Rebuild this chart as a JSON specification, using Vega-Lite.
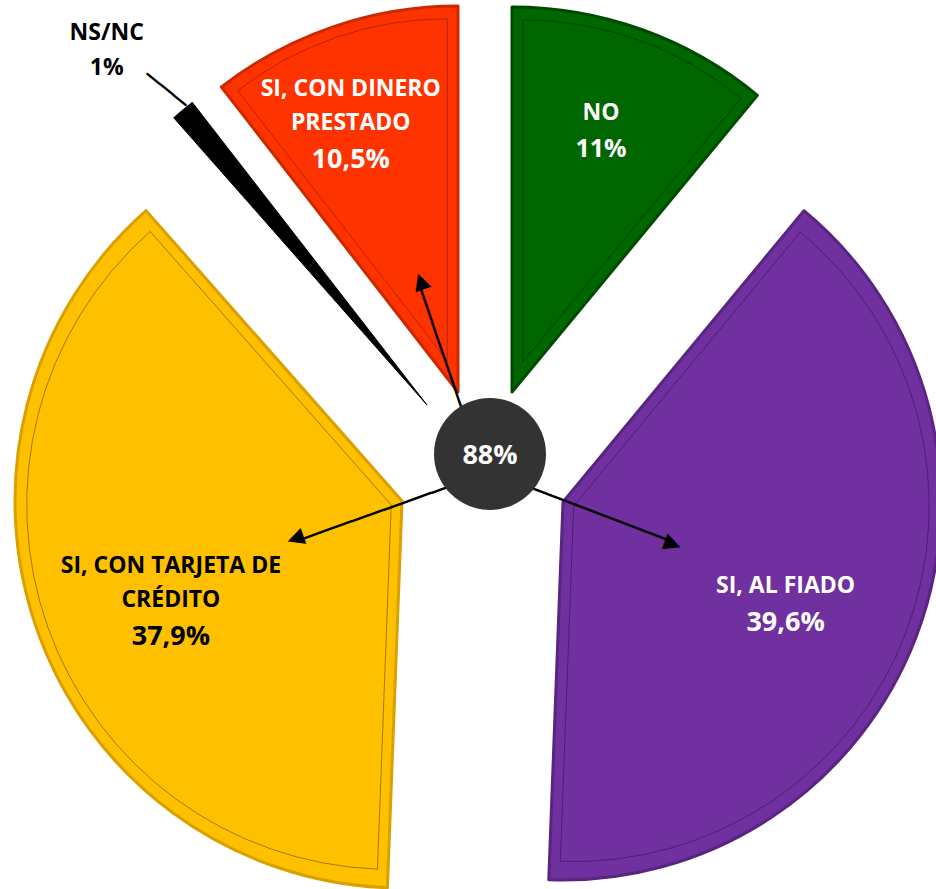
{
  "$schema": "https://vega.github.io/schema/vega-lite/v6.json",
  "autosize": {"type": "none"},
  "padding": {"left": 34, "top": 55, "right": 0, "bottom": 0},
  "width": 902,
  "height": 834,
  "background": "#ffffff",
  "config": {"view": {"stroke": null}},
  "data": {"values": [
    {"k": 1, "cat": "NO", "upper": "", "lower": "NO", "pct": "11%", "value": 11},
    {"k": 2, "cat": "SI, AL FIADO", "upper": "", "lower": "SI, AL FIADO", "pct": "39,6%", "value": 39.6},
    {"k": 3, "cat": "SI, CON TARJETA DE CRÉDITO", "upper": "SI, CON TARJETA DE", "lower": "CRÉDITO", "pct": "37,9%", "value": 37.9},
    {"k": 4, "cat": "NS/NC", "upper": "", "lower": "NS/NC", "pct": "1%", "value": 1},
    {"k": 5, "cat": "SI, CON DINERO PRESTADO", "upper": "SI, CON DINERO", "lower": "PRESTADO", "pct": "10,5%", "value": 10.5}
  ]},
  "resolve": {"scale": {"radius": "independent", "angle": "independent", "size": "independent", "xOffset": "independent", "yOffset": "independent"}},
  "layer": [
    {
      "mark": {"type": "arc", "radius": 385, "xOffset": 27, "yOffset": -80, "strokeWidth": 3, "strokeJoin": "round"},
      "encoding": {
        "theta": {"field": "value", "type": "quantitative", "stack": true},
        "order": {"field": "k", "type": "quantitative"},
        "fill": {"field": "cat", "type": "nominal", "legend": null, "scale": {"domain": ["NO", "SI, AL FIADO", "SI, CON TARJETA DE CRÉDITO", "NS/NC", "SI, CON DINERO PRESTADO"], "range": ["#006600", "#7030A0", "#FFC000", "#000000", "#FF3300"]}},
        "stroke": {"field": "cat", "type": "nominal", "legend": null, "scale": {"domain": ["NO", "SI, AL FIADO", "SI, CON TARJETA DE CRÉDITO", "NS/NC", "SI, CON DINERO PRESTADO"], "range": ["#004a00", "#58257f", "#d9a000", "#000000", "#cc2900"]}},
        "opacity": {"condition": {"test": "datum.cat === 'NO'", "value": 1}, "value": 0}
      }
    },
    {
      "mark": {"type": "arc", "radius": 378, "xOffset": 78, "yOffset": 30, "strokeWidth": 3, "strokeJoin": "round"},
      "encoding": {
        "theta": {"field": "value", "type": "quantitative", "stack": true},
        "order": {"field": "k", "type": "quantitative"},
        "fill": {"field": "cat", "type": "nominal", "legend": null},
        "stroke": {"field": "cat", "type": "nominal", "legend": null},
        "opacity": {"condition": {"test": "datum.cat === 'SI, AL FIADO'", "value": 1}, "value": 0}
      }
    },
    {
      "mark": {"type": "arc", "radius": 387, "xOffset": -83, "yOffset": 29, "strokeWidth": 3, "strokeJoin": "round"},
      "encoding": {
        "theta": {"field": "value", "type": "quantitative", "stack": true},
        "order": {"field": "k", "type": "quantitative"},
        "fill": {"field": "cat", "type": "nominal", "legend": null},
        "stroke": {"field": "cat", "type": "nominal", "legend": null},
        "opacity": {"condition": {"test": "datum.cat === 'SI, CON TARJETA DE CRÉDITO'", "value": 1}, "value": 0}
      }
    },
    {
      "mark": {"type": "arc", "radius": 383, "xOffset": -58, "yOffset": -67, "strokeWidth": 1, "strokeJoin": "round"},
      "encoding": {
        "theta": {"field": "value", "type": "quantitative", "stack": true},
        "order": {"field": "k", "type": "quantitative"},
        "fill": {"field": "cat", "type": "nominal", "legend": null},
        "stroke": {"field": "cat", "type": "nominal", "legend": null},
        "opacity": {"condition": {"test": "datum.cat === 'NS/NC'", "value": 1}, "value": 0}
      }
    },
    {
      "mark": {"type": "arc", "radius": 386, "xOffset": -27, "yOffset": -80, "strokeWidth": 3, "strokeJoin": "round"},
      "encoding": {
        "theta": {"field": "value", "type": "quantitative", "stack": true},
        "order": {"field": "k", "type": "quantitative"},
        "fill": {"field": "cat", "type": "nominal", "legend": null},
        "stroke": {"field": "cat", "type": "nominal", "legend": null},
        "opacity": {"condition": {"test": "datum.cat === 'SI, CON DINERO PRESTADO'", "value": 1}, "value": 0}
      }
    },
    {
      "mark": {"type": "arc", "filled": false, "radius": 342, "xOffset": 37.8, "yOffset": -110.1, "strokeWidth": 1, "stroke": "#003300"},
      "encoding": {
        "theta": {"field": "value", "type": "quantitative", "stack": true},
        "order": {"field": "k", "type": "quantitative"},
        "detail": {"field": "cat", "type": "nominal"},
        "strokeOpacity": {"condition": {"test": "datum.cat === 'NO'", "value": 0.7}, "value": 0}
      }
    },
    {
      "mark": {"type": "arc", "filled": false, "radius": 355.5, "xOffset": 88.7, "yOffset": 34.1, "strokeWidth": 1, "stroke": "#3f155f"},
      "encoding": {
        "theta": {"field": "value", "type": "quantitative", "stack": true},
        "order": {"field": "k", "type": "quantitative"},
        "detail": {"field": "cat", "type": "nominal"},
        "strokeOpacity": {"condition": {"test": "datum.cat === 'SI, AL FIADO'", "value": 0.7}, "value": 0}
      }
    },
    {
      "mark": {"type": "arc", "filled": false, "radius": 364.5, "xOffset": -93.8, "yOffset": 32.9, "strokeWidth": 1, "stroke": "#7a5c00"},
      "encoding": {
        "theta": {"field": "value", "type": "quantitative", "stack": true},
        "order": {"field": "k", "type": "quantitative"},
        "detail": {"field": "cat", "type": "nominal"},
        "strokeOpacity": {"condition": {"test": "datum.cat === 'SI, CON TARJETA DE CRÉDITO'", "value": 0.7}, "value": 0}
      }
    },
    {
      "mark": {"type": "arc", "filled": false, "radius": 342, "xOffset": -37.7, "yOffset": -111.2, "strokeWidth": 1, "stroke": "#992000"},
      "encoding": {
        "theta": {"field": "value", "type": "quantitative", "stack": true},
        "order": {"field": "k", "type": "quantitative"},
        "detail": {"field": "cat", "type": "nominal"},
        "strokeOpacity": {"condition": {"test": "datum.cat === 'SI, CON DINERO PRESTADO'", "value": 0.7}, "value": 0}
      }
    },
    {
      "mark": {"type": "text", "font": "DejaVu Sans Mono", "fontSize": 28, "baseline": "middle", "align": "center"},
      "encoding": {
        "theta": {"field": "value", "type": "quantitative", "stack": true},
        "order": {"field": "k", "type": "quantitative"},
        "detail": {"field": "cat", "type": "nominal"},
        "radius": {"field": "value", "type": "quantitative", "scale": {"type": "linear", "domain": [1, 10.5, 11, 37.9, 39.6], "range": [498, 125, 0, 125, 125], "zero": false, "nice": false}},
        "angle": {"field": "value", "type": "quantitative", "legend": null, "scale": {"type": "linear", "domain": [1, 10.5, 11, 37.9, 39.6], "range": [219, 251.1, 0, 160.4, 20.9], "zero": false, "nice": false}},
        "text": {"condition": [{"test": "datum.cat === 'NO'", "value": ""}, {"test": "datum.cat === 'NS/NC'", "value": "───"}], "value": "─────────▶"},
        "color": {"value": "#000000"}
      }
    },
    {
      "data": {"values": [{"total": "88%"}]},
      "mark": {"type": "arc", "radius": 56, "theta": 0, "theta2": 6.2832, "fill": "#333333", "xOffset": 5, "yOffset": -18},
      "encoding": {}
    },
    {
      "data": {"values": [{"total": "88%"}]},
      "mark": {"type": "text", "font": "Open Sans", "fontWeight": "bold", "fontSize": 27, "color": "#ffffff", "align": "center", "baseline": "middle", "xOffset": 5, "yOffset": -16},
      "encoding": {"text": {"field": "total"}}
    },
    {
      "mark": {"type": "text", "font": "Open Sans", "fontWeight": "bold", "fontSize": 23, "baseline": "bottom", "align": "center", "dy": -34},
      "encoding": {
        "theta": {"field": "value", "type": "quantitative", "stack": true},
        "order": {"field": "k", "type": "quantitative"},
        "detail": {"field": "cat", "type": "nominal"},
        "radius": {"field": "value", "type": "quantitative", "scale": {"type": "linear", "domain": [1, 10.5, 11, 37.9, 39.6], "range": [570, 362, 366, 343, 326], "zero": false, "nice": false}},
        "xOffset": {"field": "value", "type": "quantitative", "scale": {"type": "linear", "domain": [1, 10.5, 11, 37.9, 39.6], "range": [-15, -17, -8, 9, -4], "zero": false, "nice": false}},
        "yOffset": {"field": "value", "type": "quantitative", "scale": {"type": "linear", "domain": [1, 10.5, 11, 37.9, 39.6], "range": [12, 5, -3, 25, 10], "zero": false, "nice": false}},
        "text": {"field": "upper"},
        "color": {"condition": {"test": "datum.cat === 'SI, CON TARJETA DE CRÉDITO' || datum.cat === 'NS/NC'", "value": "#000000"}, "value": "#ffffff"}
      }
    },
    {
      "mark": {"type": "text", "font": "Open Sans", "fontWeight": "bold", "fontSize": 23, "baseline": "bottom", "align": "center"},
      "encoding": {
        "theta": {"field": "value", "type": "quantitative", "stack": true},
        "order": {"field": "k", "type": "quantitative"},
        "detail": {"field": "cat", "type": "nominal"},
        "radius": {"field": "value", "type": "quantitative", "scale": {"type": "linear", "domain": [1, 10.5, 11, 37.9, 39.6], "range": [570, 362, 366, 343, 326], "zero": false, "nice": false}},
        "xOffset": {"field": "value", "type": "quantitative", "scale": {"type": "linear", "domain": [1, 10.5, 11, 37.9, 39.6], "range": [-15, -17, -8, 9, -4], "zero": false, "nice": false}},
        "yOffset": {"field": "value", "type": "quantitative", "scale": {"type": "linear", "domain": [1, 10.5, 11, 37.9, 39.6], "range": [12, 5, -3, 25, 10], "zero": false, "nice": false}},
        "text": {"field": "lower"},
        "color": {"condition": {"test": "datum.cat === 'SI, CON TARJETA DE CRÉDITO' || datum.cat === 'NS/NC'", "value": "#000000"}, "value": "#ffffff"}
      }
    },
    {
      "mark": {"type": "text", "font": "Open Sans", "fontWeight": "bold", "baseline": "top", "align": "center", "dy": 12},
      "encoding": {
        "theta": {"field": "value", "type": "quantitative", "stack": true},
        "order": {"field": "k", "type": "quantitative"},
        "detail": {"field": "cat", "type": "nominal"},
        "radius": {"field": "value", "type": "quantitative", "scale": {"type": "linear", "domain": [1, 10.5, 11, 37.9, 39.6], "range": [570, 362, 366, 343, 326], "zero": false, "nice": false}},
        "xOffset": {"field": "value", "type": "quantitative", "scale": {"type": "linear", "domain": [1, 10.5, 11, 37.9, 39.6], "range": [-15, -17, -8, 9, -4], "zero": false, "nice": false}},
        "yOffset": {"field": "value", "type": "quantitative", "scale": {"type": "linear", "domain": [1, 10.5, 11, 37.9, 39.6], "range": [12, 5, -3, 25, 10], "zero": false, "nice": false}},
        "size": {"field": "value", "type": "quantitative", "legend": null, "scale": {"type": "linear", "domain": [1, 10.5, 11, 37.9, 39.6], "range": [23, 27, 25, 27, 27], "zero": false, "nice": false}},
        "text": {"field": "pct"},
        "color": {"condition": {"test": "datum.cat === 'SI, CON TARJETA DE CRÉDITO' || datum.cat === 'NS/NC'", "value": "#000000"}, "value": "#ffffff"}
      }
    }
  ]
}
